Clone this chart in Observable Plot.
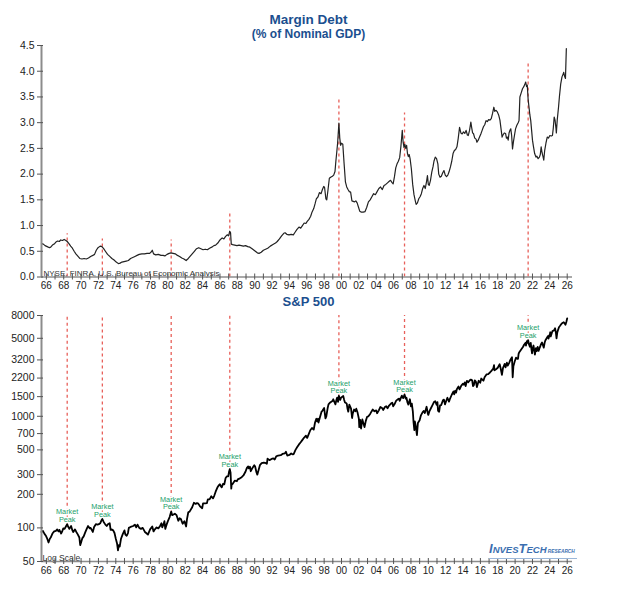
<!DOCTYPE html>
<html><head><meta charset="utf-8">
<script src="https://cdn.jsdelivr.net/npm/d3@7"></script>
<script src="https://cdn.jsdelivr.net/npm/@observablehq/plot@0.6"></script>
<style>
body{margin:0;background:#fff;}
#wrap{position:relative;width:617px;height:591px;font-family:"Liberation Sans",Arial,sans-serif;overflow:hidden;background:#fff}
.t{position:absolute;left:0;width:617px;text-align:center;color:#1b4f8f;font-weight:bold;}
#top,#bot{position:absolute;left:0}
#logo{position:absolute;left:489px;top:542px;color:#3b6fb0;font-style:italic;font-weight:bold;white-space:nowrap;line-height:12px;border-bottom:1.5px solid #9bb7d9;padding-right:2px}
</style></head><body>
<div id="wrap">
<div class="t" style="top:12px;font-size:13.5px;line-height:16px">Margin Debt</div>
<div class="t" style="top:27px;font-size:12px;line-height:14px">(% of Nominal GDP)</div>
<div id="top" style="top:30px"></div>
<div class="t" style="top:294px;font-size:13px;line-height:16px">S&amp;P 500</div>
<div id="bot" style="top:305px"></div>
<div id="logo"><span style="font-size:13px">I</span><span style="font-size:9.5px">NVES</span><span style="font-size:13px">T</span><span style="font-size:9.5px">ECH</span><span style="font-size:4.8px"> RESEARCH</span></div>
</div>
<script>
// ---- data ----
const xLabelYears = [1966,1968,1970,1972,1974,1976,1978,1980,1982,1984,1986,1988,1990,1992,1994,1996,1998,2000,2002,2004,2006,2008,2010,2012,2014,2016,2018,2020,2022,2024,2026];
const yTicksTop = [0,0.5,1.0,1.5,2.0,2.5,3.0,3.5,4.0,4.5];
const yTicksBottom = [50,100,200,300,500,700,1000,1500,2200,3200,5000,8000];
const peakYears = [1968.9, 1972.95, 1980.88, 1987.63, 2000.2, 2007.76, 2022.0];
const marginLineTop = [0.84, 0.74, 0.72, 1.28, 3.46, 3.19, 4.15];
const spPeak = [108, 120, 140, 336, 1527, 1565, 4797];
const sourceText = "NYSE, FINRA, U.S. Bureau of Economic Analysis";

const marginDebt = [
[1965.94,0.65],[1966.15,0.64],[1966.35,0.61],[1966.6,0.59],[1966.85,0.57],[1967.0,0.58],[1967.2,0.62],[1967.4,0.64],[1967.6,0.68],[1967.8,0.70],[1968.0,0.69],[1968.15,0.72],[1968.35,0.71],[1968.55,0.73],[1968.75,0.71],[1968.9,0.69],[1969.1,0.65],[1969.3,0.60],[1969.5,0.56],[1969.7,0.50],[1969.9,0.45],[1970.1,0.41],[1970.35,0.36],[1970.6,0.35],[1970.85,0.36],[1971.1,0.35],[1971.35,0.37],[1971.6,0.40],[1971.85,0.42],[1972.05,0.44],[1972.25,0.52],[1972.45,0.57],[1972.7,0.60],[1972.9,0.59],[1973.1,0.55],[1973.3,0.50],[1973.55,0.44],[1973.8,0.40],[1974.05,0.36],[1974.3,0.33],[1974.55,0.29],[1974.8,0.26],[1975.0,0.27],[1975.2,0.29],[1975.45,0.30],[1975.7,0.31],[1975.95,0.32],[1976.2,0.36],[1976.45,0.38],[1976.7,0.40],[1976.95,0.42],[1977.2,0.44],[1977.5,0.45],[1977.8,0.45],[1978.1,0.46],[1978.4,0.46],[1978.6,0.49],[1978.7,0.52],[1978.85,0.45],[1979.1,0.43],[1979.4,0.44],[1979.7,0.42],[1979.95,0.42],[1980.15,0.41],[1980.4,0.44],[1980.65,0.46],[1980.85,0.47],[1981.1,0.46],[1981.35,0.45],[1981.6,0.42],[1981.85,0.40],[1982.1,0.37],[1982.35,0.35],[1982.6,0.32],[1982.85,0.36],[1983.05,0.40],[1983.3,0.45],[1983.55,0.50],[1983.8,0.55],[1984.05,0.57],[1984.3,0.55],[1984.55,0.53],[1984.8,0.54],[1985.05,0.53],[1985.3,0.56],[1985.55,0.58],[1985.8,0.61],[1986.0,0.62],[1986.25,0.66],[1986.5,0.72],[1986.75,0.76],[1986.95,0.74],[1987.15,0.79],[1987.35,0.82],[1987.5,0.80],[1987.62,0.89],[1987.72,0.86],[1987.8,0.64],[1987.95,0.63],[1988.2,0.62],[1988.45,0.61],[1988.7,0.62],[1988.95,0.61],[1989.2,0.60],[1989.45,0.61],[1989.7,0.59],[1989.95,0.58],[1990.2,0.55],[1990.5,0.51],[1990.8,0.47],[1991.0,0.46],[1991.25,0.48],[1991.5,0.52],[1991.75,0.54],[1992.0,0.56],[1992.3,0.60],[1992.6,0.63],[1992.9,0.66],[1993.1,0.69],[1993.35,0.74],[1993.6,0.80],[1993.85,0.85],[1994.0,0.86],[1994.2,0.83],[1994.45,0.82],[1994.7,0.83],[1994.95,0.82],[1995.15,0.87],[1995.35,0.92],[1995.6,0.97],[1995.8,0.95],[1996.0,1.00],[1996.2,1.05],[1996.4,1.04],[1996.55,1.08],[1996.75,1.12],[1996.95,1.18],[1997.1,1.26],[1997.3,1.33],[1997.45,1.42],[1997.6,1.52],[1997.8,1.56],[1997.95,1.64],[1998.15,1.62],[1998.3,1.70],[1998.45,1.76],[1998.55,1.74],[1998.7,1.52],[1998.8,1.50],[1998.95,1.70],[1999.1,1.92],[1999.25,1.94],[1999.45,1.96],[1999.6,1.98],[1999.75,2.05],[1999.85,2.25],[1999.95,2.42],[2000.05,2.60],[2000.2,2.99],[2000.3,2.70],[2000.4,2.56],[2000.5,2.60],[2000.65,2.58],[2000.8,2.20],[2000.95,1.85],[2001.1,1.75],[2001.25,1.70],[2001.4,1.66],[2001.55,1.65],[2001.7,1.48],[2001.85,1.47],[2002.0,1.46],[2002.15,1.48],[2002.3,1.44],[2002.45,1.36],[2002.6,1.28],[2002.8,1.26],[2003.0,1.26],[2003.2,1.27],[2003.4,1.35],[2003.6,1.46],[2003.8,1.50],[2004.0,1.56],[2004.2,1.62],[2004.4,1.60],[2004.6,1.66],[2004.8,1.72],[2005.0,1.75],[2005.2,1.70],[2005.4,1.78],[2005.6,1.80],[2005.8,1.83],[2006.0,1.86],[2006.15,1.88],[2006.3,1.84],[2006.45,1.81],[2006.6,1.95],[2006.75,2.12],[2006.9,2.20],[2007.05,2.25],[2007.2,2.32],[2007.35,2.55],[2007.5,2.85],[2007.6,2.62],[2007.7,2.52],[2007.8,2.58],[2007.9,2.50],[2008.0,2.56],[2008.1,2.40],[2008.2,2.34],[2008.3,2.38],[2008.4,2.30],[2008.55,2.10],[2008.7,1.80],[2008.85,1.60],[2009.0,1.48],[2009.1,1.41],[2009.25,1.44],[2009.4,1.52],[2009.55,1.56],[2009.7,1.62],[2009.85,1.72],[2010.0,1.78],[2010.15,1.72],[2010.3,1.86],[2010.4,1.97],[2010.5,1.80],[2010.6,1.78],[2010.75,1.88],[2010.9,2.04],[2011.05,2.15],[2011.15,2.25],[2011.3,2.33],[2011.45,2.30],[2011.6,2.20],[2011.7,2.00],[2011.85,1.94],[2012.0,1.96],[2012.15,2.02],[2012.3,2.07],[2012.45,1.98],[2012.6,1.95],[2012.75,1.98],[2012.9,2.05],[2013.05,2.14],[2013.2,2.25],[2013.35,2.40],[2013.5,2.46],[2013.65,2.48],[2013.8,2.53],[2013.95,2.70],[2014.1,2.91],[2014.25,2.80],[2014.4,2.78],[2014.55,2.82],[2014.7,2.79],[2014.85,2.85],[2015.0,2.76],[2015.1,2.75],[2015.25,2.85],[2015.4,3.01],[2015.5,2.90],[2015.6,2.80],[2015.7,2.79],[2015.85,2.70],[2016.0,2.68],[2016.1,2.62],[2016.25,2.66],[2016.4,2.72],[2016.55,2.78],[2016.7,2.85],[2016.85,2.92],[2017.0,2.96],[2017.15,3.04],[2017.3,3.02],[2017.45,3.06],[2017.6,3.05],[2017.75,3.08],[2017.9,3.18],[2018.05,3.30],[2018.15,3.22],[2018.3,3.24],[2018.45,3.21],[2018.6,3.15],[2018.75,3.05],[2018.9,2.85],[2019.0,2.72],[2019.1,2.76],[2019.25,2.80],[2019.4,2.79],[2019.5,2.70],[2019.6,2.72],[2019.7,2.66],[2019.8,2.80],[2019.9,2.85],[2020.0,2.88],[2020.1,2.75],[2020.2,2.49],[2020.3,2.62],[2020.45,2.78],[2020.55,2.88],[2020.7,2.95],[2020.85,3.00],[2020.95,3.04],[2021.05,3.50],[2021.2,3.58],[2021.35,3.66],[2021.5,3.70],[2021.65,3.76],[2021.72,3.79],[2021.82,3.70],[2021.9,3.73],[2022.0,3.45],[2022.1,3.30],[2022.2,3.15],[2022.3,3.04],[2022.4,2.85],[2022.5,2.66],[2022.6,2.55],[2022.75,2.40],[2022.9,2.33],[2023.0,2.35],[2023.15,2.30],[2023.3,2.33],[2023.4,2.38],[2023.5,2.53],[2023.6,2.42],[2023.7,2.35],[2023.8,2.27],[2023.9,2.45],[2024.05,2.60],[2024.2,2.72],[2024.35,2.70],[2024.5,2.75],[2024.65,2.74],[2024.8,2.75],[2024.9,2.90],[2025.0,3.11],[2025.1,3.05],[2025.2,2.90],[2025.25,2.80],[2025.35,3.05],[2025.5,3.30],[2025.6,3.50],[2025.75,3.75],[2025.9,3.89],[2026.05,3.95],[2026.1,3.98],[2026.2,3.90],[2026.3,3.86],[2026.4,4.44]
];

const sp500 = [
[1965.94,92],[1966.1,94],[1966.3,88],[1966.45,85],[1966.6,80],[1966.75,74],[1966.9,80],[1967.0,82],[1967.2,89],[1967.4,93],[1967.6,94],[1967.75,97],[1967.9,93],[1968.0,96],[1968.2,89],[1968.3,92],[1968.45,99],[1968.6,98],[1968.75,103],[1968.9,108],[1969.0,103],[1969.15,98],[1969.35,104],[1969.5,95],[1969.6,92],[1969.8,97],[1969.95,92],[1970.1,88],[1970.3,82],[1970.4,70],[1970.5,74],[1970.65,81],[1970.8,84],[1971.0,92],[1971.2,100],[1971.3,104],[1971.5,99],[1971.6,100],[1971.85,92],[1972.0,102],[1972.2,108],[1972.4,107],[1972.55,108],[1972.7,110],[1972.85,117],[1972.95,120],[1973.1,113],[1973.3,107],[1973.45,104],[1973.6,108],[1973.8,110],[1973.9,96],[1974.0,97],[1974.2,95],[1974.35,90],[1974.5,80],[1974.65,72],[1974.75,63],[1974.85,70],[1974.95,68],[1975.1,80],[1975.3,88],[1975.5,95],[1975.6,87],[1975.75,85],[1975.9,90],[1976.0,100],[1976.2,102],[1976.5,104],[1976.7,107],[1976.85,101],[1977.0,107],[1977.2,100],[1977.4,98],[1977.6,100],[1977.85,92],[1978.0,90],[1978.2,87],[1978.45,97],[1978.7,103],[1978.85,93],[1979.0,97],[1979.2,101],[1979.4,99],[1979.6,104],[1979.75,110],[1979.85,101],[1980.0,108],[1980.1,115],[1980.2,98],[1980.35,107],[1980.5,115],[1980.7,125],[1980.88,140],[1981.0,130],[1981.3,134],[1981.5,130],[1981.7,116],[1981.85,122],[1982.0,120],[1982.2,109],[1982.4,115],[1982.6,103],[1982.7,120],[1982.85,138],[1983.0,140],[1983.3,153],[1983.5,168],[1983.7,164],[1983.85,167],[1984.0,165],[1984.2,156],[1984.45,150],[1984.55,166],[1984.8,166],[1985.0,167],[1985.1,180],[1985.3,180],[1985.5,192],[1985.7,184],[1985.85,195],[1986.0,211],[1986.2,230],[1986.35,240],[1986.5,246],[1986.6,236],[1986.7,231],[1986.85,248],[1987.0,246],[1987.15,280],[1987.3,290],[1987.45,290],[1987.55,320],[1987.63,336],[1987.72,312],[1987.8,225],[1987.85,245],[1987.95,247],[1988.2,265],[1988.45,262],[1988.55,272],[1988.8,278],[1989.0,285],[1989.2,295],[1989.45,320],[1989.6,345],[1989.75,356],[1989.8,342],[1989.95,353],[1990.05,322],[1990.2,340],[1990.45,365],[1990.55,355],[1990.7,315],[1990.8,300],[1990.95,330],[1991.1,365],[1991.3,380],[1991.55,385],[1991.8,380],[1991.9,375],[1991.98,417],[1992.2,405],[1992.45,415],[1992.65,420],[1992.8,410],[1992.98,438],[1993.2,445],[1993.5,448],[1993.7,460],[1993.98,466],[1994.1,481],[1994.25,445],[1994.5,450],[1994.7,465],[1994.9,455],[1995.0,460],[1995.2,500],[1995.4,530],[1995.6,560],[1995.8,585],[1996.0,615],[1996.2,645],[1996.4,670],[1996.55,640],[1996.7,685],[1996.9,750],[1997.1,785],[1997.3,760],[1997.45,880],[1997.6,950],[1997.7,900],[1997.8,950],[1997.85,880],[1998.0,970],[1998.2,1100],[1998.3,1120],[1998.5,1186],[1998.65,957],[1998.75,1000],[1998.9,1180],[1999.0,1280],[1999.2,1330],[1999.45,1370],[1999.55,1420],[1999.8,1280],[1999.9,1390],[2000.0,1469],[2000.1,1350],[2000.2,1527],[2000.35,1400],[2000.45,1470],[2000.7,1520],[2000.8,1410],[2000.9,1330],[2001.0,1320],[2001.1,1300],[2001.2,1160],[2001.28,1100],[2001.4,1270],[2001.5,1220],[2001.6,1170],[2001.72,965],[2001.8,1060],[2001.95,1150],[2002.1,1110],[2002.2,1170],[2002.35,1080],[2002.5,950],[2002.55,800],[2002.65,930],[2002.75,777],[2002.9,936],[2003.0,880],[2003.15,800],[2003.3,910],[2003.45,990],[2003.6,1000],[2003.8,1050],[2003.98,1112],[2004.1,1150],[2004.3,1110],[2004.5,1130],[2004.6,1065],[2004.8,1130],[2004.98,1212],[2005.2,1180],[2005.3,1140],[2005.5,1210],[2005.65,1230],[2005.8,1180],[2005.98,1248],[2006.2,1300],[2006.35,1325],[2006.45,1230],[2006.6,1280],[2006.8,1380],[2006.98,1418],[2007.15,1440],[2007.2,1375],[2007.45,1530],[2007.6,1455],[2007.76,1565],[2007.9,1440],[2007.98,1468],[2008.1,1330],[2008.2,1273],[2008.38,1420],[2008.5,1230],[2008.6,1300],[2008.72,1100],[2008.8,880],[2008.89,752],[2008.95,900],[2009.05,820],[2009.19,677],[2009.3,870],[2009.5,920],[2009.65,1020],[2009.85,1090],[2009.98,1115],[2010.1,1070],[2010.3,1217],[2010.45,1050],[2010.5,1030],[2010.65,1120],[2010.8,1180],[2010.98,1258],[2011.15,1340],[2011.3,1364],[2011.45,1270],[2011.55,1340],[2011.62,1120],[2011.75,1099],[2011.85,1250],[2011.98,1258],[2012.2,1400],[2012.3,1410],[2012.42,1278],[2012.6,1400],[2012.7,1465],[2012.88,1353],[2012.98,1426],[2013.2,1560],[2013.4,1670],[2013.48,1573],[2013.6,1700],[2013.7,1630],[2013.8,1760],[2013.98,1848],[2014.1,1741],[2014.3,1880],[2014.5,1960],[2014.6,1920],[2014.7,2010],[2014.8,1862],[2014.95,2080],[2015.1,2020],[2015.3,2110],[2015.4,2130],[2015.55,2100],[2015.65,1867],[2015.75,1900],[2015.85,2100],[2015.98,2044],[2016.1,1829],[2016.3,2080],[2016.48,2000],[2016.6,2180],[2016.85,2085],[2016.98,2239],[2017.2,2370],[2017.4,2390],[2017.6,2470],[2017.8,2570],[2017.98,2674],[2018.07,2873],[2018.12,2581],[2018.3,2640],[2018.5,2720],[2018.72,2930],[2018.85,2650],[2018.98,2351],[2019.1,2700],[2019.3,2945],[2019.4,2750],[2019.55,3020],[2019.65,2840],[2019.8,3000],[2019.98,3231],[2020.14,3386],[2020.22,2237],[2020.3,2800],[2020.45,3100],[2020.6,3350],[2020.75,3270],[2020.83,3270],[2020.9,3630],[2020.98,3756],[2021.2,3970],[2021.4,4180],[2021.55,4400],[2021.7,4540],[2021.75,4300],[2021.85,4700],[2021.92,4550],[2022.0,4797],[2022.1,4400],[2022.2,4200],[2022.3,4550],[2022.38,4000],[2022.45,3667],[2022.55,4130],[2022.62,4305],[2022.78,3577],[2022.9,4080],[2022.98,3840],[2023.1,4180],[2023.2,3850],[2023.35,4150],[2023.5,4450],[2023.6,4590],[2023.8,4117],[2023.9,4560],[2023.98,4770],[2024.2,5100],[2024.3,5250],[2024.35,4970],[2024.5,5460],[2024.55,5660],[2024.6,5190],[2024.8,5800],[2024.98,5880],[2025.1,6144],[2025.2,5600],[2025.27,4982],[2025.35,5600],[2025.45,5950],[2025.55,6280],[2025.7,6500],[2025.85,6750],[2026.0,6900],[2026.1,6970],[2026.2,6800],[2026.3,6600],[2026.4,7000],[2026.5,7550]
];

// ---- layout helpers ----
const FONT = '"Liberation Sans", Arial, sans-serif';
const xDomain = [1965.94, 2027.11];
const minorTicks = d3.range(1966, 2027).map(y => y + 0.5);
const labelTicks = xLabelYears.map(y => y + 0.5);
const fmtYear = d => String(Math.round(d - 0.5) % 100).padStart(2, "0");
const AXIS = "#8c8c8c";
const RED = "#e8605a";
const GREEN = "#23a06a";
const peaks = peakYears.map((x, i) => ({x, top: marginLineTop[i], sp: spPeak[i]}));

function xAxes() {
  return [
    Plot.axisX(minorTicks, {tickSize: 6, dy: -3, tickFormat: () => "", stroke: "#555", label: null}),
    Plot.axisX(labelTicks, {tickSize: 0, tickPadding: 5, tickFormat: fmtYear, fontSize: 10, fill: "#222", label: null})
  ];
}
function yLabels(ticks, fmt) {
  return Plot.text(ticks, {x: xDomain[0], y: d => d, text: fmt, textAnchor: "end", dx: -7, fontSize: 10.5, fill: "#222"});
}
const peakText = {x: "x", y: "sp", lineAnchor: "bottom", fontSize: 7.3, fill: GREEN, stroke: "white", strokeWidth: 3};

const topChart = Plot.plot({
  width: 617, height: 270,
  marginTop: 15, marginBottom: 23.5, marginLeft: 41, marginRight: 45,
  x: {domain: xDomain, axis: null},
  y: {domain: [0, 4.5], axis: null},
  style: {fontFamily: FONT, background: "transparent", overflow: "visible"},
  marks: [
    Plot.ruleX(peaks, {x: "x", y1: 0, y2: "top", stroke: RED, strokeDasharray: "3,3", strokeWidth: 1.3}),
    Plot.line(marginDebt, {x: d => d[0], y: d => d[1], stroke: "#222", strokeWidth: 1.2}),
    Plot.text([sourceText], {frameAnchor: "bottom-left", lineAnchor: "bottom", dx: 2, dy: -1, fontSize: 8, fill: "#333"}),
    Plot.ruleY([0], {stroke: AXIS, strokeWidth: 1.6}),
    Plot.ruleX([xDomain[0]], {stroke: AXIS, strokeWidth: 2}),
    ...xAxes(),
    Plot.axisY(yTicksTop, {tickSize: 6, dx: 2, tickFormat: () => "", stroke: "#555", label: null}),
    yLabels(yTicksTop, d => d.toFixed(1))
  ]
});
document.getElementById("top").appendChild(topChart);

const botChart = Plot.plot({
  width: 617, height: 280,
  marginTop: 10, marginBottom: 24, marginLeft: 41, marginRight: 45,
  x: {domain: xDomain, axis: null},
  y: {type: "log", domain: [50, 8000], axis: null},
  style: {fontFamily: FONT, background: "transparent", overflow: "visible"},
  marks: [
    Plot.ruleX(peaks, {x: "x", y1: "sp", y2: 8000, stroke: RED, strokeDasharray: "3,3", strokeWidth: 1.3}),
    Plot.text(peaks, {...peakText, text: () => "Peak", dy: -2.5}),
    Plot.text(peaks, {...peakText, text: () => "Market", dy: -10}),
    Plot.line(sp500, {x: d => d[0], y: d => d[1], stroke: "#000", strokeWidth: 1.8}),
    Plot.text(["Log Scale"], {frameAnchor: "bottom-left", lineAnchor: "bottom", dx: 1, dy: -1, fontSize: 8.5, fill: "#333"}),
    Plot.ruleY([50], {stroke: AXIS, strokeWidth: 1.6}),
    Plot.ruleX([xDomain[0]], {stroke: AXIS, strokeWidth: 2}),
    ...xAxes(),
    Plot.axisY(yTicksBottom, {tickSize: 6, dx: 2, tickFormat: () => "", stroke: "#555", label: null}),
    yLabels(yTicksBottom, d => String(d))
  ]
});
document.getElementById("bot").appendChild(botChart);
</script>
</body></html>
